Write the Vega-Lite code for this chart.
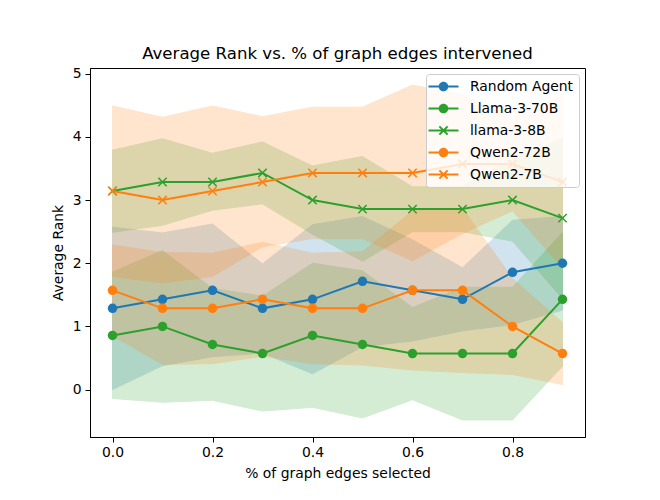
{
  "$schema": "https://vega.github.io/schema/vega-lite/v6.json",
  "autosize": "none",
  "width": 495,
  "height": 369,
  "padding": {"left": 90, "top": 68, "right": 75, "bottom": 63},
  "title": {"text": "Average Rank vs. % of graph edges intervened", "fontSize": 16.6, "fontWeight": "normal", "font": "DejaVu Sans", "color": "black", "offset": 4, "anchor": "middle"},
  "config": {
    "font": "DejaVu Sans",
    "view": {"stroke": "black", "strokeWidth": 1},
    "axis": {"grid": false, "domainColor": "black", "tickColor": "black", "tickSize": 5, "labelColor": "black", "titleColor": "black", "labelFontSize": 13.9, "titleFontSize": 13.9, "titleFontWeight": "normal", "labelFont": "DejaVu Sans", "titleFont": "DejaVu Sans"},
    "legend": {"orient": "top-right", "offset": 6, "padding": 5,
      "fillColor": "rgba(255,255,255,0.8)", "strokeColor": "#cccccc", "cornerRadius": 3,
      "labelFontSize": 13.9, "labelFont": "DejaVu Sans", "labelColor": "black",
      "symbolSize": 225, "symbolOffset": 5, "labelOffset": 19, "rowPadding": 7, "symbolOpacity": 1, "symbolStrokeWidth": 0}
  },
  "data": {"values": [
    {"series": "Random Agent", "x": 0.0, "mean": 1.286, "lower": 0.0, "upper": 2.57},
    {"series": "Random Agent", "x": 0.1, "mean": 1.429, "lower": 0.38, "upper": 2.48},
    {"series": "Random Agent", "x": 0.2, "mean": 1.571, "lower": 0.52, "upper": 2.62},
    {"series": "Random Agent", "x": 0.3, "mean": 1.286, "lower": 0.58, "upper": 1.99},
    {"series": "Random Agent", "x": 0.4, "mean": 1.429, "lower": 0.25, "upper": 2.61},
    {"series": "Random Agent", "x": 0.5, "mean": 1.714, "lower": 0.68, "upper": 2.74},
    {"series": "Random Agent", "x": 0.6, "mean": 1.571, "lower": 0.77, "upper": 2.37},
    {"series": "Random Agent", "x": 0.7, "mean": 1.429, "lower": 0.93, "upper": 1.93},
    {"series": "Random Agent", "x": 0.8, "mean": 1.857, "lower": 1.03, "upper": 2.68},
    {"series": "Random Agent", "x": 0.9, "mean": 2.0, "lower": 1.26, "upper": 2.74},
    {"series": "Llama-3-70B", "x": 0.0, "mean": 0.857, "lower": -0.14, "upper": 1.86},
    {"series": "Llama-3-70B", "x": 0.1, "mean": 1.0, "lower": -0.2, "upper": 2.2},
    {"series": "Llama-3-70B", "x": 0.2, "mean": 0.714, "lower": -0.17, "upper": 1.6},
    {"series": "Llama-3-70B", "x": 0.3, "mean": 0.571, "lower": -0.34, "upper": 1.48},
    {"series": "Llama-3-70B", "x": 0.4, "mean": 0.857, "lower": -0.28, "upper": 2.0},
    {"series": "Llama-3-70B", "x": 0.5, "mean": 0.714, "lower": -0.45, "upper": 1.88},
    {"series": "Llama-3-70B", "x": 0.6, "mean": 0.571, "lower": -0.16, "upper": 1.3},
    {"series": "Llama-3-70B", "x": 0.7, "mean": 0.571, "lower": -0.48, "upper": 1.62},
    {"series": "Llama-3-70B", "x": 0.8, "mean": 0.571, "lower": -0.48, "upper": 1.62},
    {"series": "Llama-3-70B", "x": 0.9, "mean": 1.429, "lower": 0.37, "upper": 2.49},
    {"series": "llama-3-8B", "x": 0.0, "mean": 3.143, "lower": 2.49, "upper": 3.79},
    {"series": "llama-3-8B", "x": 0.1, "mean": 3.286, "lower": 2.6, "upper": 3.97},
    {"series": "llama-3-8B", "x": 0.2, "mean": 3.286, "lower": 2.84, "upper": 3.74},
    {"series": "llama-3-8B", "x": 0.3, "mean": 3.429, "lower": 2.94, "upper": 3.92},
    {"series": "llama-3-8B", "x": 0.4, "mean": 3.0, "lower": 2.46, "upper": 3.54},
    {"series": "llama-3-8B", "x": 0.5, "mean": 2.857, "lower": 2.03, "upper": 3.69},
    {"series": "llama-3-8B", "x": 0.6, "mean": 2.857, "lower": 2.5, "upper": 3.21},
    {"series": "llama-3-8B", "x": 0.7, "mean": 2.857, "lower": 2.5, "upper": 3.21},
    {"series": "llama-3-8B", "x": 0.8, "mean": 3.0, "lower": 2.35, "upper": 3.65},
    {"series": "llama-3-8B", "x": 0.9, "mean": 2.714, "lower": 1.44, "upper": 3.98},
    {"series": "Qwen2-72B", "x": 0.0, "mean": 1.571, "lower": 0.85, "upper": 2.29},
    {"series": "Qwen2-72B", "x": 0.1, "mean": 1.286, "lower": 0.4, "upper": 2.17},
    {"series": "Qwen2-72B", "x": 0.2, "mean": 1.286, "lower": 0.41, "upper": 2.16},
    {"series": "Qwen2-72B", "x": 0.3, "mean": 1.429, "lower": 0.53, "upper": 2.33},
    {"series": "Qwen2-72B", "x": 0.4, "mean": 1.286, "lower": 0.41, "upper": 2.16},
    {"series": "Qwen2-72B", "x": 0.5, "mean": 1.286, "lower": 0.39, "upper": 2.18},
    {"series": "Qwen2-72B", "x": 0.6, "mean": 1.571, "lower": 0.31, "upper": 2.83},
    {"series": "Qwen2-72B", "x": 0.7, "mean": 1.571, "lower": 0.27, "upper": 2.87},
    {"series": "Qwen2-72B", "x": 0.8, "mean": 1.0, "lower": 0.24, "upper": 1.76},
    {"series": "Qwen2-72B", "x": 0.9, "mean": 0.571, "lower": 0.08, "upper": 1.06},
    {"series": "Qwen2-7B", "x": 0.0, "mean": 3.143, "lower": 1.79, "upper": 4.49},
    {"series": "Qwen2-7B", "x": 0.1, "mean": 3.0, "lower": 1.69, "upper": 4.31},
    {"series": "Qwen2-7B", "x": 0.2, "mean": 3.143, "lower": 1.79, "upper": 4.49},
    {"series": "Qwen2-7B", "x": 0.3, "mean": 3.286, "lower": 2.26, "upper": 4.32},
    {"series": "Qwen2-7B", "x": 0.4, "mean": 3.429, "lower": 2.39, "upper": 4.47},
    {"series": "Qwen2-7B", "x": 0.5, "mean": 3.429, "lower": 2.39, "upper": 4.47},
    {"series": "Qwen2-7B", "x": 0.6, "mean": 3.429, "lower": 2.04, "upper": 4.82},
    {"series": "Qwen2-7B", "x": 0.7, "mean": 3.571, "lower": 2.47, "upper": 4.67},
    {"series": "Qwen2-7B", "x": 0.8, "mean": 3.571, "lower": 2.83, "upper": 4.31},
    {"series": "Qwen2-7B", "x": 0.9, "mean": 3.286, "lower": 1.92, "upper": 4.66}
  ]},
  "encoding": {
    "x": {"field": "x", "type": "quantitative", "scale": {"domain": [-0.045, 0.945], "nice": false, "zero": false},
      "axis": {"title": "% of graph edges selected", "values": [0, 0.2, 0.4, 0.6, 0.8], "format": ".1f", "labelPadding": 3, "titlePadding": 8, "labelFlush": false}}
  },
  "layer": [
    {
      "mark": {"type": "area", "opacity": 0.2, "strokeWidth": 1},
      "encoding": {
        "y": {"field": "lower", "type": "quantitative", "scale": {"domain": [-0.75, 5.09], "nice": false, "zero": false},
          "axis": {"title": "Average Rank", "values": [0, 1, 2, 3, 4, 5], "format": "d", "labelPadding": 4, "titlePadding": 7}},
        "y2": {"field": "upper"},
        "color": {"field": "series", "type": "nominal",
          "scale": {"domain": ["Llama-3-70B", "llama-3-8B", "Qwen2-72B", "Qwen2-7B", "Random Agent"], "range": ["#2ca02c", "#2ca02c", "#ff7f0e", "#ff7f0e", "#1f77b4"]},
          "legend": null},
        "stroke": {"field": "series", "type": "nominal",
          "scale": {"domain": ["Llama-3-70B", "llama-3-8B", "Qwen2-72B", "Qwen2-7B", "Random Agent"], "range": ["#2ca02c", "#2ca02c", "#ff7f0e", "#ff7f0e", "#1f77b4"]},
          "legend": null}
      }
    },
    {
      "mark": {"type": "line", "strokeWidth": 2},
      "encoding": {
        "y": {"field": "mean", "type": "quantitative"},
        "color": {"field": "series", "type": "nominal", "legend": null}
      }
    },
    {
      "transform": [{"filter": {"field": "series", "oneOf": ["Random Agent", "Llama-3-70B", "Qwen2-72B"]}}],
      "mark": {"type": "point", "shape": "circle", "filled": true, "size": 90, "opacity": 1},
      "encoding": {
        "y": {"field": "mean", "type": "quantitative"},
        "color": {"field": "series", "type": "nominal", "legend": null}
      }
    },
    {
      "transform": [{"filter": {"field": "series", "oneOf": ["llama-3-8B", "Qwen2-7B"]}}],
      "mark": {"type": "point", "shape": "M-1,-1L1,1M-1,1L1,-1", "filled": false, "size": 70, "strokeWidth": 1.5, "opacity": 1},
      "encoding": {
        "y": {"field": "mean", "type": "quantitative"},
        "color": {"field": "series", "type": "nominal", "legend": null}
      }
    },
    {
      "mark": {"type": "point", "filled": true, "opacity": 0},
      "encoding": {
        "y": {"field": "mean", "type": "quantitative"},
        "fill": {"field": "series", "type": "nominal",
          "scale": {"domain": ["Random Agent", "Llama-3-70B", "llama-3-8B", "Qwen2-72B", "Qwen2-7B"], "range": ["#1f77b4", "#2ca02c", "#2ca02c", "#ff7f0e", "#ff7f0e"]},
          "legend": {"title": null}},
        "shape": {"field": "series", "type": "nominal",
          "scale": {"domain": ["Random Agent", "Llama-3-70B", "llama-3-8B", "Qwen2-72B", "Qwen2-7B"],
            "range": [
              "M-2,-0.14L2,-0.14L2,0.14L-2,0.14Z M-0.64,0A0.64,0.64 0 1,1 0.64,0A0.64,0.64 0 1,1 -0.64,0Z",
              "M-2,-0.14L2,-0.14L2,0.14L-2,0.14Z M-0.64,0A0.64,0.64 0 1,1 0.64,0A0.64,0.64 0 1,1 -0.64,0Z",
              "M-2,-0.14L2,-0.14L2,0.14L-2,0.14Z M-0.456,-0.644L0.644,0.456L0.456,0.644L-0.644,-0.456Z M-0.644,0.456L0.456,-0.644L0.644,-0.456L-0.456,0.644Z",
              "M-2,-0.14L2,-0.14L2,0.14L-2,0.14Z M-0.64,0A0.64,0.64 0 1,1 0.64,0A0.64,0.64 0 1,1 -0.64,0Z",
              "M-2,-0.14L2,-0.14L2,0.14L-2,0.14Z M-0.456,-0.644L0.644,0.456L0.456,0.644L-0.644,-0.456Z M-0.644,0.456L0.456,-0.644L0.644,-0.456L-0.456,0.644Z"
            ]},
          "legend": {"title": null}}
      }
    }
  ]
}
